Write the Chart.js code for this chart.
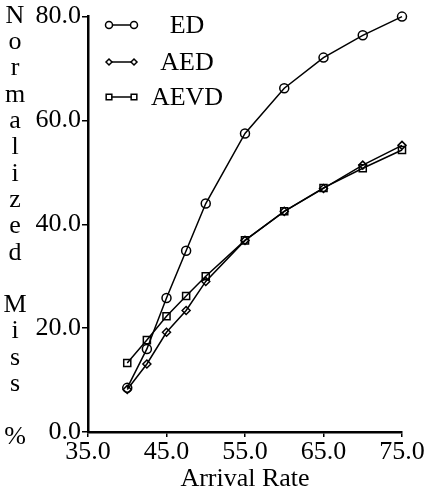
<!DOCTYPE html>
<html>
<head>
<meta charset="utf-8">
<script src="https://cdn.jsdelivr.net/npm/chart.js@4/dist/chart.umd.min.js"></script>
<style>
  body { margin: 0; background: #fff; }
  #wrap { width: 427px; height: 491px; }
</style>
</head>
<body>
<div id="wrap"><canvas id="myChart" width="427" height="491"></canvas></div>
<script>
const arrivalRate = [40, 42.5, 45, 47.5, 50, 55, 60, 65, 70, 75];
const missED = [8.5, 16.0, 25.8, 34.9, 44.0, 57.5, 66.2, 72.1, 76.4, 80.0];
const missAED = [8.2, 13.1, 19.2, 23.4, 29.0, 36.9, 42.5, 46.9, 51.4, 55.2];
const missAEVD = [13.3, 17.7, 22.3, 26.2, 30.0, 36.9, 42.5, 47.0, 50.8, 54.3];
const seriesNames = ["ED", "AED", "AEVD"];
const yTitleText = "Normalized Miss %";

const serif = "'Liberation Serif', 'DejaVu Serif', serif";
Chart.defaults.font.family = serif;
Chart.defaults.color = "#000";

const pts = (ys) => arrivalRate.map((x, i) => ({ x, y: ys[i] }));

const markers = [
    { pointStyle: "circle", radius: 4.5 },
    { pointStyle: "rectRot", radius: 4 },
    { pointStyle: "rect", radius: 5 },
];

// vertical stacked letters for y title + the "o--o" legend
const extras = {
    id: "extras",
    afterDraw(chart) {
        const ctx = chart.ctx;
        ctx.save();
        ctx.fillStyle = "#000";
        ctx.font = "26px " + serif;
        ctx.textAlign = "center";
        ctx.textBaseline = "middle";
        yTitleText.split("").forEach((ch, i) => {
            if (ch !== " ") ctx.fillText(ch, 15, 16 + i * 26.3);
        });

        const rows = [25, 62, 97];
        seriesNames.forEach((name, i) => {
            const y = rows[i];
            ctx.strokeStyle = "#000";
            ctx.lineWidth = 1.5;
            ctx.beginPath();
            ctx.moveTo(109, y);
            ctx.lineTo(134, y);
            ctx.stroke();
            ctx.fillStyle = "#fff";
            const m = { pointStyle: markers[i].pointStyle, radius: markers[i].radius - 1, rotation: 0, borderWidth: 1.8 };
            Chart.helpers.drawPoint(ctx, m, 109, y);
            Chart.helpers.drawPoint(ctx, m, 134, y);
            ctx.fillStyle = "#000";
            ctx.fillText(name, 187, y + 1);
        });
        ctx.restore();
    },
};

const ctx = document.getElementById("myChart");

new Chart(ctx, {
    type: "line",
    data: {
        datasets: [missED, missAED, missAEVD].map((d, i) => ({
            label: seriesNames[i],
            data: pts(d),
            borderColor: "#000",
            borderWidth: 1.5,
            backgroundColor: "rgba(255,255,255,0)",
            pointStyle: markers[i].pointStyle,
            pointRadius: markers[i].radius,
            pointBorderWidth: 1.5,
            pointBorderColor: "#000",
            pointBackgroundColor: "rgba(255,255,255,0)",
            tension: 0,
            clip: false,
        })),
    },
    options: {
        responsive: false,
        animation: false,
        layout: { padding: { top: 14, right: 25, left: 0, bottom: 0 } },
        plugins: {
            legend: { display: false },
            tooltip: { enabled: false },
        },
        scales: {
            x: {
                type: "linear",
                min: 35,
                max: 75,
                ticks: {
                    stepSize: 10,
                    padding: 0,
                    maxRotation: 0,
                    font: { size: 26 },
                    callback: (v) => v.toFixed(1),
                },
                grid: { drawOnChartArea: false, drawTicks: true, tickLength: 5, color: "#000", lineWidth: 1.5 },
                border: { color: "#000", width: 2.5 },
                title: { display: true, text: "Arrival Rate", font: { size: 26 }, padding: { top: 0, bottom: -4 } },
                afterFit(scale) { scale.height = 59; },
            },
            y: {
                min: 0,
                max: 80,
                ticks: {
                    stepSize: 20,
                    padding: 1,
                    font: { size: 26 },
                    callback: (v) => v.toFixed(1),
                },
                grid: { drawOnChartArea: false, drawTicks: true, tickLength: 6, color: "#000", lineWidth: 1.5 },
                border: { color: "#000", width: 2.5 },
                afterFit(scale) { scale.width = 88; },
            },
        },
    },
    plugins: [extras],
});
</script>
</body>
</html>
